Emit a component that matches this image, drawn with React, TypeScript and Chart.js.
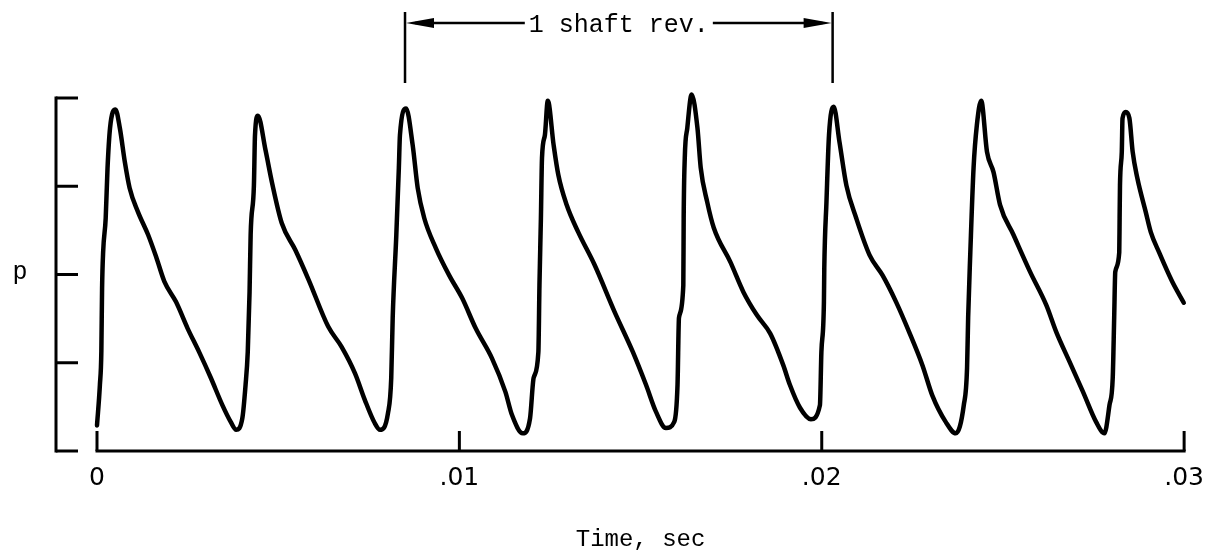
import React, { useEffect, useRef } from 'react';
import { Chart, registerables } from 'chart.js';

Chart.register(...registerables);

// Time (milliseconds) and pressure (arbitrary units, 0-4 axis span)
const timeMs = [
  0.0, 0.08, 0.12, 0.14, 0.17, 0.24, 0.29, 0.36, 0.51,
  0.63, 0.77, 0.9, 1.13, 1.41, 1.64, 1.86, 2.18, 2.5, 2.82, 3.14, 3.46, 3.69, 3.84,
  4.01, 4.1, 4.16, 4.21, 4.24, 4.33, 4.36, 4.44,
  4.65, 4.83, 5.1, 5.47, 5.84, 6.38, 6.75, 7.12, 7.39, 7.66, 7.81,
  8.03, 8.12, 8.16, 8.26, 8.33, 8.36, 8.53,
  8.71, 8.85, 9.03, 9.35, 9.72, 10.08, 10.45, 10.9, 11.27, 11.45, 11.75,
  11.95, 12.05, 12.18, 12.21, 12.25, 12.28, 12.36, 12.44,
  12.6, 12.73, 12.96, 13.28, 13.73, 14.28, 14.79, 15.15, 15.43, 15.7, 15.93,
  16.02, 16.06, 16.18, 16.19, 16.22, 16.29, 16.41,
  16.57, 16.66, 16.84, 17.02, 17.48, 17.84, 18.21, 18.58, 18.94, 19.12, 19.4, 19.7,
  19.95, 19.99, 20.06, 20.07, 20.13, 20.2, 20.33,
  20.49, 20.68, 20.95, 21.32, 21.68, 22.05, 22.41, 22.78, 23.05, 23.42, 23.7,
  23.92, 24.01, 24.04, 24.1, 24.19, 24.28, 24.4,
  24.56, 24.74, 24.92, 25.29, 25.75, 26.2, 26.47, 26.84, 27.21, 27.57, 27.8,
  27.94, 28.03, 28.07, 28.1, 28.21, 28.22, 28.23, 28.28, 28.3, 28.39,
  28.49, 28.58, 28.71, 28.94, 29.08, 29.31, 29.67, 29.99,
];

const pressure = [
  0.29, 0.75, 1.13, 1.84, 2.26, 2.64, 3.2, 3.66, 3.87,
  3.66, 3.27, 2.98, 2.71, 2.45, 2.19, 1.92, 1.69, 1.39, 1.12, 0.83, 0.52, 0.33, 0.24,
  0.37, 0.75, 1.12, 1.8, 2.45, 3.01, 3.58, 3.8,
  3.41, 3.04, 2.58, 2.28, 1.94, 1.41, 1.18, 0.88, 0.58, 0.32, 0.24,
  0.43, 0.83, 1.51, 2.45, 3.21, 3.58, 3.88,
  3.47, 2.98, 2.64, 2.3, 1.99, 1.73, 1.39, 1.05, 0.67, 0.41, 0.2,
  0.37, 0.83, 1.12, 1.88, 2.64, 3.32, 3.58, 3.97,
  3.47, 3.13, 2.79, 2.48, 2.11, 1.58, 1.12, 0.75, 0.44, 0.26, 0.33,
  0.75, 1.51, 1.88, 2.64, 3.32, 3.66, 4.04,
  3.66, 3.21, 2.82, 2.53, 2.14, 1.8, 1.54, 1.33, 0.97, 0.75, 0.49, 0.36,
  0.52, 1.12, 1.69, 2.07, 2.82, 3.58, 3.9,
  3.5, 3.01, 2.64, 2.22, 1.99, 1.69, 1.35, 0.97, 0.63, 0.33, 0.2,
  0.52, 0.94, 1.51, 2.25, 3.21, 3.69, 3.97,
  3.39, 3.16, 2.79, 2.45, 2.03, 1.65, 1.35, 1.01, 0.67, 0.33, 0.2,
  0.52, 0.83, 1.51, 2.03, 2.25, 2.64, 3.01, 3.39, 3.77, 3.84,
  3.77, 3.39, 3.09, 2.71, 2.48, 2.25, 1.92, 1.68,
];

const xTickValues = [0, 0.01, 0.02, 0.03];
const xTickLabels = ['0', '.01', '.02', '.03'];
const yTickValues = [0, 1, 2, 3, 4];
const xTitle = 'Time, sec';
const yTitle = 'p';
const shaftRevTimes = [0.0085, 0.0203];
const shaftRevLabel = '1 shaft rev.';

const MONO = '"Liberation Mono", "Courier New", monospace';

export default function App() {
  const ref = useRef<HTMLCanvasElement>(null);

  useEffect(() => {
    document.body.style.margin = '0';
    const canvas = ref.current;
    if (!canvas) return;
    const points = timeMs.map((t, i) => ({ x: t / 1000, y: pressure[i] }));

    const decor = {
      id: 'decor',
      afterDraw(chart: any) {
        const { ctx, chartArea, scales } = chart;
        const xs = scales.x;
        const ys = scales.y;
        ctx.save();
        ctx.strokeStyle = '#000';
        ctx.fillStyle = '#000';
        ctx.lineWidth = 3;
        ctx.lineCap = 'butt';

        // y-axis bracket with inward ticks
        const bx = chartArea.left - 41;
        const bx2 = chartArea.left - 19;
        const yTop = ys.getPixelForValue(yTickValues[yTickValues.length - 1]);
        const yBot = ys.getPixelForValue(yTickValues[0]);
        ctx.beginPath();
        ctx.moveTo(bx, yTop - 1.5);
        ctx.lineTo(bx, yBot + 1.5);
        ctx.stroke();
        yTickValues.forEach((v) => {
          const y = ys.getPixelForValue(v);
          ctx.beginPath();
          ctx.moveTo(bx, y);
          ctx.lineTo(bx2, y);
          ctx.stroke();
        });

        // x-axis baseline with upward ticks
        const x0 = xs.getPixelForValue(xTickValues[0]);
        const x1 = xs.getPixelForValue(xTickValues[xTickValues.length - 1]);
        ctx.beginPath();
        ctx.moveTo(x0 - 1.5, yBot);
        ctx.lineTo(x1 + 1.5, yBot);
        ctx.stroke();
        xTickValues.forEach((v) => {
          const x = xs.getPixelForValue(v);
          ctx.beginPath();
          ctx.moveTo(x, yBot);
          ctx.lineTo(x, yBot - 20);
          ctx.stroke();
        });

        // y label
        ctx.font = `25px ${MONO}`;
        ctx.textAlign = 'center';
        ctx.textBaseline = 'middle';
        ctx.fillText(yTitle, chartArea.left - 77, ys.getPixelForValue(2) - 2);

        // 1 shaft rev. annotation
        const sx1 = xs.getPixelForValue(shaftRevTimes[0]);
        const sx2 = xs.getPixelForValue(shaftRevTimes[1]);
        const ay = 23;
        ctx.lineWidth = 2.5;
        ctx.beginPath();
        ctx.moveTo(sx1, 12);
        ctx.lineTo(sx1, 83);
        ctx.moveTo(sx2, 12);
        ctx.lineTo(sx2, 83);
        ctx.stroke();
        const mid = (sx1 + sx2) / 2;
        ctx.font = `25px ${MONO}`;
        ctx.textAlign = 'center';
        ctx.textBaseline = 'alphabetic';
        ctx.fillText(shaftRevLabel, mid, 32);
        const tw = ctx.measureText(shaftRevLabel).width;
        const tl = mid - tw / 2 - 4;
        const tr = mid + tw / 2 + 4;
        ctx.beginPath();
        ctx.moveTo(sx1 + 10, ay);
        ctx.lineTo(tl, ay);
        ctx.moveTo(tr, ay);
        ctx.lineTo(sx2 - 10, ay);
        ctx.stroke();
        ctx.beginPath();
        ctx.moveTo(sx1 + 1, ay);
        ctx.lineTo(sx1 + 29, ay - 5);
        ctx.lineTo(sx1 + 29, ay + 5);
        ctx.closePath();
        ctx.fill();
        ctx.beginPath();
        ctx.moveTo(sx2 - 1, ay);
        ctx.lineTo(sx2 - 29, ay - 5);
        ctx.lineTo(sx2 - 29, ay + 5);
        ctx.closePath();
        ctx.fill();
        ctx.restore();
      },
    };

    const chart = new Chart(canvas, {
      type: 'line',
      data: {
        datasets: [
          {
            data: points,
            borderColor: '#000',
            borderWidth: 4.5,
            pointRadius: 0,
            fill: false,
            cubicInterpolationMode: 'monotone',
            borderCapStyle: 'round',
            borderJoinStyle: 'round',
            clip: false,
          } as any,
        ],
      },
      options: {
        responsive: false,
        animation: false,
        devicePixelRatio: 1,
        layout: { padding: { left: 97, right: 24, top: 98, bottom: 0 } },
        plugins: { legend: { display: false }, tooltip: { enabled: false } },
        scales: {
          x: {
            type: 'linear',
            position: 'bottom',
            min: xTickValues[0],
            max: xTickValues[xTickValues.length - 1],
            grid: { display: false, drawTicks: false },
            border: { display: false },
            afterBuildTicks: (s: any) => {
              s.ticks = xTickValues.map((v) => ({ value: v }));
            },
            afterFit: (s: any) => {
              s.height = 103;
            },
            ticks: {
              autoSkip: false,
              maxRotation: 0,
              padding: 12,
              color: '#000',
              font: { family: '"DejaVu Sans", sans-serif', size: 25 },
              callback: (v: any) => {
                const i = xTickValues.indexOf(Number(v));
                return i >= 0 ? xTickLabels[i] : '';
              },
            },
            title: {
              display: true,
              text: xTitle,
              color: '#000',
              font: { family: MONO, size: 24 },
              padding: { top: 0, bottom: 0 },
            },
          },
          y: {
            type: 'linear',
            min: yTickValues[0],
            max: yTickValues[yTickValues.length - 1],
            display: false,
          },
        },
      } as any,
      plugins: [decor],
    });
    return () => chart.destroy();
  }, []);

  return (
    <div style={{ width: 1216, height: 554, background: '#fff' }}>
      <canvas ref={ref} width={1216} height={554} />
    </div>
  );
}
